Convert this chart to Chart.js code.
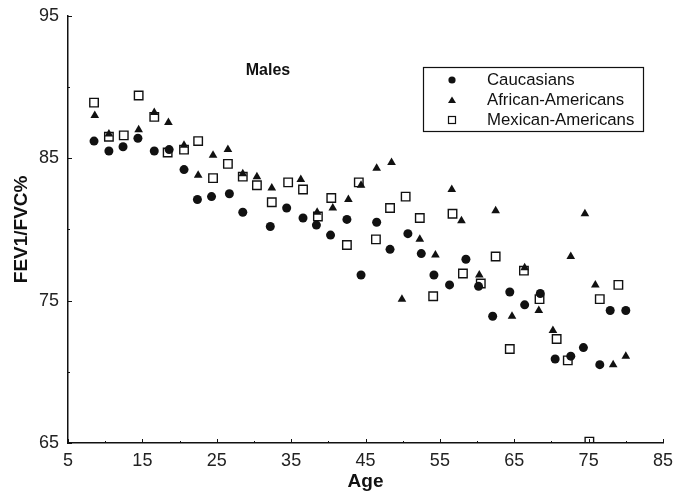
<!DOCTYPE html>
<html>
<head>
<meta charset="utf-8">
<script src="https://cdn.jsdelivr.net/npm/chart.js@4.4.1/dist/chart.umd.min.js"></script>
<style>
  html, body { margin: 0; padding: 0; background: #fff; }
  #wrap { width: 691px; height: 492px; position: relative; }
</style>
</head>
<body>
<div id="wrap"><canvas id="chart"></canvas></div>
<script>
// values
const cauAge = [8.5, 10.5, 12.4, 14.4, 16.6, 18.6, 20.6, 22.4, 24.3, 26.7, 28.5, 32.2, 34.4, 36.6, 38.4, 40.3, 42.5, 44.4, 46.5, 48.3, 50.7, 52.5, 54.2, 56.3, 58.5, 60.2, 62.1, 64.4, 66.4, 68.5, 70.5, 72.6, 74.3, 76.5, 77.9, 80.0];
const cauFev = [86.2, 85.5, 85.8, 86.4, 85.5, 85.6, 84.2, 82.1, 82.3, 82.5, 81.2, 80.2, 81.5, 80.8, 80.3, 79.6, 80.7, 76.8, 80.5, 78.6, 79.7, 78.3, 76.8, 76.1, 77.9, 76.0, 73.9, 75.6, 74.7, 75.5, 70.9, 71.1, 71.7, 70.5, 74.3, 74.3];

const afrAge = [8.6, 10.5, 14.5, 16.6, 18.5, 20.6, 22.5, 24.5, 26.5, 28.5, 30.4, 32.4, 36.3, 38.5, 40.6, 42.7, 44.4, 46.5, 48.5, 49.9, 52.3, 54.4, 56.6, 57.9, 60.3, 62.5, 64.7, 66.4, 68.3, 70.2, 72.6, 74.5, 75.9, 78.3, 80.0];
const afrFev = [88.0, 86.7, 87.0, 88.2, 87.5, 85.9, 83.8, 85.2, 85.6, 83.9, 83.7, 82.9, 83.5, 81.2, 81.5, 82.1, 83.1, 84.3, 84.7, 75.1, 79.3, 78.2, 82.8, 80.6, 76.8, 81.3, 73.9, 77.3, 74.3, 72.9, 78.1, 81.1, 76.1, 70.5, 71.1];

const mexAge = [8.5, 10.5, 12.5, 14.5, 16.6, 18.4, 20.6, 22.5, 24.5, 26.5, 28.5, 30.4, 32.4, 34.6, 36.6, 38.6, 40.4, 42.5, 44.1, 46.4, 48.3, 50.4, 52.3, 54.1, 56.7, 58.1, 60.5, 62.5, 64.4, 66.3, 68.4, 70.7, 72.2, 75.1, 76.5, 79.0];
const mexFev = [88.9, 86.5, 86.6, 89.4, 87.9, 85.4, 85.6, 86.2, 83.6, 84.6, 83.7, 83.1, 81.9, 83.3, 82.8, 80.9, 82.2, 78.9, 83.3, 79.3, 81.5, 82.3, 80.8, 75.3, 81.1, 76.9, 76.2, 78.1, 71.6, 77.1, 75.1, 72.3, 70.8, 65.1, 75.1, 76.1];

const seriesNames = ['Caucasians', 'African-Americans', 'Mexican-Americans'];
const xTicks = [5, 15, 25, 35, 45, 55, 65, 75, 85];
const yTicks = [65, 75, 85, 95];
const xMinor = [10, 20, 30, 40, 50, 60, 70, 80];
const yMinor = [70, 80, 90];

function toPoints(xs, ys) {
    return xs.map((x, i) => ({ x: x, y: ys[i] }));
}

const FONT = "'Liberation Sans', Arial, Helvetica, sans-serif";

// tick marks point into the plot, as in the reference
const innerTicksPlugin = {
    id: 'innerTicks',
    afterDatasetsDraw(chart) {
        const ctx = chart.ctx;
        const xs = chart.scales.x;
        const ys = chart.scales.y;
        const a = chart.chartArea;
        ctx.save();
        ctx.strokeStyle = '#111';
        ctx.lineWidth = 1;
        ctx.beginPath();
        xTicks.forEach(v => {
            const px = Math.round(xs.getPixelForValue(v)) + 0.5;
            ctx.moveTo(px, a.bottom);
            ctx.lineTo(px, a.bottom - 4);
        });
        xMinor.forEach(v => {
            const px = Math.round(xs.getPixelForValue(v)) + 0.5;
            ctx.moveTo(px, a.bottom);
            ctx.lineTo(px, a.bottom - 2);
        });
        yTicks.forEach(v => {
            const py = Math.round(ys.getPixelForValue(v)) + 0.5;
            ctx.moveTo(a.left, py);
            ctx.lineTo(a.left + 4, py);
        });
        yMinor.forEach(v => {
            const py = Math.round(ys.getPixelForValue(v)) + 0.5;
            ctx.moveTo(a.left, py);
            ctx.lineTo(a.left + 2, py);
        });
        ctx.stroke();
        ctx.restore();
    }
};

// legend box and the "Males" label drawn inside the plot
const overlayPlugin = {
    id: 'overlay',
    afterDraw(chart) {
        const ctx = chart.ctx;
        ctx.save();
        ctx.fillStyle = '#111';
        ctx.font = 'bold 16px ' + FONT;
        ctx.textAlign = 'center';
        ctx.textBaseline = 'middle';
        ctx.fillText('Males', 268, 71);

        ctx.strokeStyle = '#111';
        ctx.lineWidth = 1.2;
        ctx.strokeRect(423.5, 67.5, 220, 64);

        ctx.font = '16.8px ' + FONT;
        ctx.textAlign = 'left';
        const rows = [80, 100, 120];
        rows.forEach((y, i) => {
            ctx.fillText(seriesNames[i], 487, y);
        });
        // markers
        ctx.beginPath();
        ctx.arc(452, 80, 3.6, 0, Math.PI * 2);
        ctx.fill();
        ctx.beginPath();
        ctx.moveTo(452, 96.5);
        ctx.lineTo(456, 103);
        ctx.lineTo(448, 103);
        ctx.closePath();
        ctx.fill();
        ctx.lineWidth = 1.2;
        ctx.strokeRect(448.5, 116.5, 7, 7);
        ctx.restore();
    }
};

const ctx = document.getElementById('chart');
new Chart(ctx, {
    type: 'scatter',
    data: {
        datasets: [
            {
                label: seriesNames[2],
                data: toPoints(mexAge, mexFev),
                pointStyle: 'rect',
                pointRadius: 6,
                borderColor: '#111',
                backgroundColor: 'rgba(0,0,0,0)',
                borderWidth: 1.4
            },
            {
                label: seriesNames[1],
                data: toPoints(afrAge, afrFev),
                pointStyle: 'triangle',
                pointRadius: 5,
                borderColor: '#111',
                backgroundColor: '#111',
                borderWidth: 0
            },
            {
                label: seriesNames[0],
                data: toPoints(cauAge, cauFev),
                pointStyle: 'circle',
                pointRadius: 4.5,
                borderColor: '#111',
                backgroundColor: '#111',
                borderWidth: 0
            }
        ]
    },
    options: {
        responsive: true,
        maintainAspectRatio: false,
        animation: false,
        layout: { padding: { left: 0, top: 15, right: 28, bottom: 0 } },
        plugins: {
            legend: { display: false },
            tooltip: { enabled: false }
        },
        scales: {
            x: {
                type: 'linear',
                min: 5,
                max: 85,
                afterFit: (scale) => { scale.height = 49; },
                afterBuildTicks: (scale) => { scale.ticks = xTicks.map(v => ({ value: v })); },
                ticks: {
                    color: '#222',
                    font: { family: FONT, size: 18 },
                    padding: 7,
                    maxRotation: 0
                },
                grid: { drawOnChartArea: false, drawTicks: false, color: '#111' },
                border: { color: '#111', width: 1.5 },
                title: {
                    display: true,
                    text: 'Age',
                    color: '#111',
                    font: { family: FONT, size: 19, weight: 'bold' },
                    padding: { top: 0, bottom: -1 }
                }
            },
            y: {
                type: 'linear',
                min: 65,
                max: 95,
                afterFit: (scale) => { scale.width = 68; },
                afterBuildTicks: (scale) => { scale.ticks = yTicks.map(v => ({ value: v })); },
                ticks: {
                    color: '#222',
                    font: { family: FONT, size: 18, lineHeight: 0.75 },
                    padding: 9
                },
                grid: { drawOnChartArea: false, drawTicks: false, color: '#111' },
                border: { color: '#111', width: 1.5 },
                title: {
                    display: true,
                    text: 'FEV1/FVC%',
                    color: '#111',
                    font: { family: FONT, size: 19, weight: 'bold' },
                    padding: { top: 10, bottom: 0 }
                }
            }
        }
    },
    plugins: [innerTicksPlugin, overlayPlugin]
});
</script>
</body>
</html>
